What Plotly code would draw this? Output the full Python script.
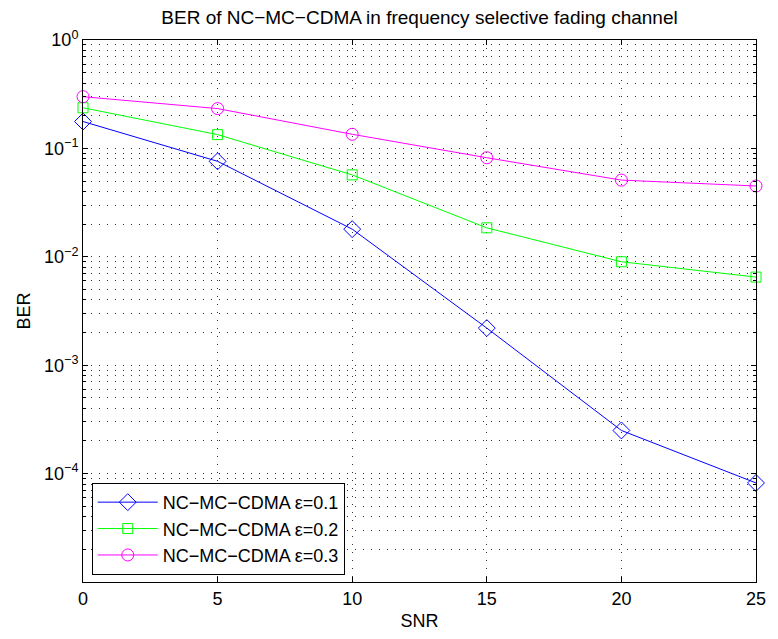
import plotly.graph_objects as go

snr = [0, 5, 10, 15, 20, 25]
ber_01 = [0.177, 0.076, 0.018, 0.0022, 0.00025, 0.000082]
ber_02 = [0.237, 0.134, 0.057, 0.0185, 0.009, 0.0065]
ber_03 = [0.30, 0.233, 0.135, 0.082, 0.051, 0.045]
names = ["NC−MC−CDMA ε=0.1", "NC−MC−CDMA ε=0.2", "NC−MC−CDMA ε=0.3"]
colors = ["#0000FF", "#00FF00", "#FF00FF"]
symbols = ["diamond-open", "square-open", "circle-open"]
sizes = [13, 10, 12]

y_tickvals = [1e-5, 1e-4, 1e-3, 1e-2, 1e-1, 1]
y_ticktext = ["", "10<sup>−4</sup>", "10<sup>−3</sup>", "10<sup>−2</sup>", "10<sup>−1</sup>", "10<sup>0</sup>"]
minor_vals = [m * 10.0 ** k for k in range(-5, 0) for m in range(2, 10)]

fig = go.Figure()
for ys, n, c, s, sz in zip([ber_01, ber_02, ber_03], names, colors, symbols, sizes):
    fig.add_trace(go.Scatter(x=snr, y=ys, name=n, mode="lines+markers", cliponaxis=False,
                             line=dict(color=c, width=1),
                             marker=dict(symbol=s, size=sz, color=c, line=dict(width=1, color=c))))

font = "Liberation Sans, Arial, Helvetica, sans-serif"
grid_dash = "1px,7px"
grid_col = "#333333"
fig.update_layout(
    width=778, height=639,
    margin=dict(l=83, r=14, t=40, b=54),
    paper_bgcolor="white", plot_bgcolor="white",
    font=dict(family=font, size=18, color="black"),
    title=dict(text="BER of NC−MC−CDMA in frequency selective fading channel",
               x=0.5, xref="paper", xanchor="center", y=0.973, yanchor="middle",
               font=dict(size=19)),
    showlegend=True,
    legend=dict(x=0.013, y=0.013, xanchor="left", yanchor="bottom",
                bordercolor="black", borderwidth=1, bgcolor="white",
                font=dict(size=18), tracegroupgap=0, itemwidth=60),
)
fig.update_xaxes(
    range=[0, 25], tickvals=snr, ticks="inside", ticklen=5, tickcolor="black",
    showline=True, linecolor="black", linewidth=1, mirror="ticks",
    showgrid=True, gridcolor=grid_col, griddash=grid_dash, gridwidth=1,
    zeroline=False,
    title=dict(text="SNR", font=dict(size=18), standoff=6),
    tickfont=dict(size=18),
)
fig.update_yaxes(
    type="log", range=[-5, 0], tickvals=y_tickvals, ticktext=y_ticktext,
    ticks="inside", ticklen=5, tickcolor="black",
    showline=True, linecolor="black", linewidth=1, mirror="ticks",
    showgrid=True, gridcolor=grid_col, griddash=grid_dash, gridwidth=1,
    zeroline=False,
    minor=dict(tickvals=minor_vals, ticks="inside", ticklen=3, tickcolor="black",
               showgrid=True, gridcolor=grid_col, griddash=grid_dash, gridwidth=1),
    title=dict(text="BER", font=dict(size=18), standoff=8),
    tickfont=dict(size=18),
)
fig.write_html("out.html")
